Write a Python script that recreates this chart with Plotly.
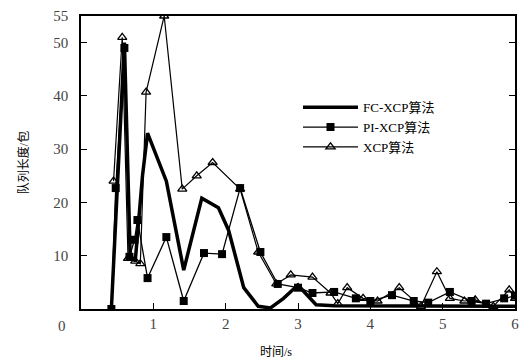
import plotly.graph_objects as go

# FC-XCP queue length (packets) over time (s)
fc_t = [0.42, 0.5, 0.6, 0.68, 0.75, 0.85, 0.92, 1.18, 1.42, 1.67, 1.9, 2.04, 2.25, 2.45, 2.62, 2.8, 3.0, 3.1, 3.25, 3.5, 4.0, 4.5, 5.0, 5.5, 6.0]
fc_q = [0, 22, 50, 10, 9, 25, 33, 24, 7.3, 20.8, 19, 14.8, 4, 0.5, 0.2, 2, 4.5, 3, 0.8, 0.6, 0.6, 0.5, 0.5, 0.5, 0.5]

# PI-XCP queue length
pi_t = [0.42, 0.48, 0.6, 0.67, 0.74, 0.78, 0.92, 1.18, 1.42, 1.7, 1.95, 2.2, 2.48, 2.72, 3.0, 3.2, 3.5, 3.8, 4.0, 4.3, 4.6, 4.8, 5.1, 5.4, 5.6, 5.85, 6.0]
pi_q = [0, 22.7, 49, 9.8, 13, 16.7, 5.8, 13.5, 1.5, 10.5, 10.3, 22.7, 10.7, 4.7, 4.0, 3.0, 3.2, 2.0, 1.5, 2.6, 1.5, 1.2, 3.2, 1.5, 1.0, 2.0, 2.5]

# XCP queue length
xcp_t = [0.45, 0.57, 0.65, 0.75, 0.82, 0.9, 1.15, 1.4, 1.6, 1.82, 2.2, 2.45, 2.7, 2.9, 3.2, 3.45, 3.55, 3.68, 3.9, 4.1, 4.4, 4.7, 4.92, 5.1, 5.3, 5.45, 5.7, 5.92, 6.0]
xcp_q = [24, 51, 9.5, 9, 8.5, 40.7, 55, 22.5, 25, 27.5, 22.5, 10.7, 4.7, 6.4, 6, 3, 1, 4, 2, 1.5, 4, 0.5, 7, 2, 1.5, 1.7, 0.5, 3.6, 2]

x_ticks = [1, 2, 3, 4, 5, 6]
y_ticks = [10, 20, 30, 40, 50, 55]

serif = "Liberation Serif, DejaVu Serif, serif"
cjk = "Liberation Serif, Noto Sans CJK SC, serif"

fig = go.Figure()
fig.add_trace(go.Scatter(
    x=fc_t, y=fc_q, mode="lines", name="FC-XCP算法",
    line=dict(color="black", width=3.5),
))
fig.add_trace(go.Scatter(
    x=pi_t, y=pi_q, mode="lines+markers", name="PI-XCP算法",
    line=dict(color="black", width=1.3),
    marker=dict(symbol="square", size=8, color="black"),
))
fig.add_trace(go.Scatter(
    x=xcp_t, y=xcp_q, mode="lines+markers", name="XCP算法",
    line=dict(color="black", width=1.2),
    marker=dict(symbol="triangle-up-open", size=8, color="black",
                line=dict(width=1.3, color="black")),
))

fig.update_layout(
    width=527, height=363,
    margin=dict(l=81, r=8, t=15, b=54),
    paper_bgcolor="white", plot_bgcolor="white",
    showlegend=True,
    legend=dict(
        x=0.5, y=0.74, xanchor="left", yanchor="top",
        bgcolor="rgba(255,255,255,0)",
        font=dict(family=cjk, size=13, color="black"),
        itemwidth=55, tracegroupgap=0,
    ),
    font=dict(family=serif, color="#333"),
)

fig.update_xaxes(
    range=[0, 6], tickvals=x_ticks, ticktext=[str(v) for v in x_ticks],
    ticks="inside", ticklen=6, tickcolor="black",
    showline=True, linecolor="black", linewidth=1.5, mirror=True,
    showgrid=False, zeroline=False,
    tickfont=dict(family=serif, size=15, color="#444"),
)
fig.update_yaxes(
    range=[0, 55], tickvals=y_ticks, ticktext=[str(v) for v in y_ticks],
    ticks="inside", ticklen=6, tickcolor="black",
    showline=True, linecolor="black", linewidth=1.5, mirror="ticks",
    showgrid=False, zeroline=False, ticklabelstandoff=8,
    tickfont=dict(family=serif, size=15, color="#444"),
    title=dict(text="队列长度/包", font=dict(family=cjk, size=12, color="black"), standoff=22),
)

# origin label and x-axis title
fig.add_annotation(text="0", x=0, y=0, xref="x", yref="y", xshift=-19, yshift=-17,
                   showarrow=False, font=dict(family=serif, size=15, color="#444"))
fig.add_annotation(text="时间/s", x=(278 - 81) / 438, y=-0.148, xref="paper", yref="paper",
                   yanchor="middle", showarrow=False,
                   font=dict(family=cjk, size=12, color="black"))

fig.write_html("out.html")
